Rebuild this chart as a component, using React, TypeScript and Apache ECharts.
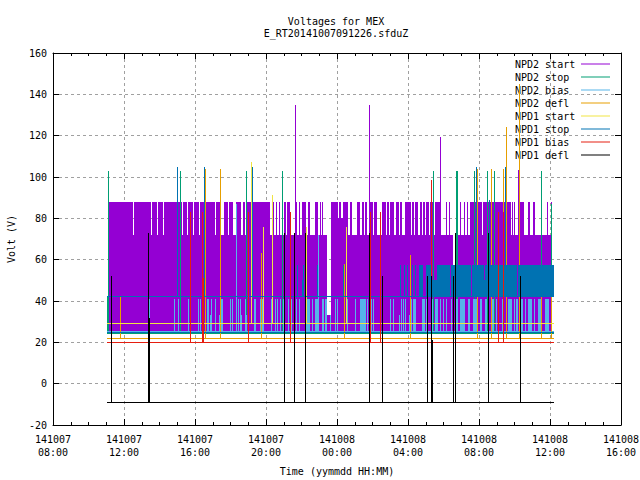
import React, { useEffect, useRef } from "react";
import * as echarts from "echarts";

const FONT = "DejaVu Sans Mono";
const seriesNames = ["NPD2 start", "NPD2 stop", "NPD2 bias", "NPD2 defl", "NPD1 start", "NPD1 stop", "NPD1 bias", "NPD1 defl"];
const seriesColors = ["#9400d3", "#009e73", "#56b4e9", "#e69f00", "#f0e442", "#0072b2", "#e51e10", "#000000"];
const xTickLabels = ["141007\n08:00", "141007\n12:00", "141007\n16:00", "141007\n20:00", "141008\n00:00", "141008\n04:00", "141008\n08:00", "141008\n12:00", "141008\n16:00"];

// hours since 141007 00:00
const dataStart = 11.04;
const dataEnd = 36.22;
const purpleStart = 11.13;
const purpleEnd = 36.08;

// [from, to, level the signal still reaches inside the gap]
const purpleGaps = [
  [12.51, 12.56, 72], [13.52, 13.6, 72], [13.86, 13.94, 72], [14.2, 14.25, 72], [15.27, 15.32, 72], [15.55, 15.61, 72],
  [15.89, 15.94, 72], [16.23, 16.28, 72], [17.15, 17.21, 72], [17.44, 17.63, 72], [17.86, 17.92, 72], [18.14, 18.31, 72],
  [18.59, 18.7, 72], [18.82, 18.93, 72], [20.23, 20.39, 72], [20.45, 20.56, 72], [20.62, 20.73, 72], [20.79, 21.04, 72],
  [21.1, 21.18, 72], [21.35, 21.69, 72], [21.75, 21.86, 72], [21.94, 22.03, 72], [22.23, 22.37, 72], [22.48, 22.76, 72],
  [22.93, 23.04, 72], [23.1, 23.15, 72], [23.21, 23.44, 72], [23.44, 23.66, 33], [24.06, 24.11, 80], [24.23, 24.34, 80],
  [24.62, 24.73, 72], [24.85, 25.13, 72], [25.3, 25.41, 72], [25.52, 25.58, 72], [25.69, 25.86, 72], [26.03, 26.08, 72],
  [26.25, 26.54, 72], [26.76, 26.82, 72], [26.93, 26.99, 72], [27.21, 27.32, 72], [27.49, 27.55, 72], [27.66, 27.83, 72],
  [28.17, 28.23, 72], [28.34, 28.39, 72], [28.56, 28.68, 72], [28.79, 28.85, 72], [28.96, 29.01, 72], [29.18, 29.24, 72],
  [29.41, 29.52, 72], [29.86, 30.14, 72], [30.2, 30.31, 72], [30.37, 30.52, 72], [30.52, 30.62, 57], [30.62, 30.7, 72],
  [30.82, 30.93, 72], [30.99, 31.15, 72], [31.21, 31.32, 72], [31.38, 31.49, 72], [32.17, 32.23, 72], [33.8, 33.86, 72],
  [33.92, 33.97, 72], [34.03, 34.2, 72], [34.54, 34.76, 72], [34.87, 35.04, 72], [35.15, 35.49, 72], [35.55, 35.83, 72],
  [35.89, 36.06, 72],
];
const purpleLow = 25;
const purpleHigh = 88;
// [from, to, top]; from === to is a single sample
const npd2StartSpikes = [[21.63, 21.63, 135], [25.8, 25.8, 135], [29.8, 29.8, 119.5], [34.2, 34.2, 103.6]];
const npd2StopSpikes = [
  [11.07, 11.16, 42], [11.1, 11.1, 102.7], [15.18, 15.18, 102.7], [18.89, 18.89, 102.7], [20.9, 20.9, 102.7], [29.41, 29.41, 102.7],
  [30.7, 30.82, 102.7], [31.72, 31.72, 102.7], [32.45, 32.45, 102.7], [32.85, 32.85, 102.7], [35.49, 35.49, 102.7], [36.06, 36.06, 87],
];
const npd2BiasSpikes = [
  [13.41, 13.41, 41], [14.82, 14.82, 41], [15.04, 15.04, 41], [15.61, 15.61, 41], [16.17, 16.17, 41], [16.28, 16.28, 41], [16.68, 16.79, 41],
  [16.85, 16.85, 33], [16.9, 16.9, 41], [17.13, 17.13, 41], [17.35, 17.35, 33], [17.46, 17.58, 41], [17.97, 17.97, 41], [18.08, 18.08, 41],
  [18.31, 18.31, 87], [18.42, 18.42, 41], [18.54, 18.54, 41], [18.59, 18.59, 33], [18.82, 18.82, 41], [18.88, 18.93, 33], [19.32, 19.44, 41],
  [19.66, 19.89, 41], [20.28, 20.28, 41], [20.51, 20.51, 41], [20.62, 20.62, 41], [20.79, 20.79, 41], [20.96, 20.96, 41], [21.24, 21.24, 41],
  [21.41, 21.41, 41], [21.69, 21.69, 41], [21.86, 21.86, 41], [22.25, 22.48, 41], [22.59, 22.59, 41], [22.76, 22.93, 41], [22.91, 22.91, 72],
  [23.15, 23.27, 41], [23.32, 23.32, 41], [23.38, 23.38, 41], [23.61, 23.61, 33], [23.89, 23.89, 41], [24, 24, 41], [24.56, 24.56, 41],
  [25.01, 25.01, 41], [25.3, 25.64, 41], [25.69, 25.69, 41], [25.92, 25.92, 41], [26.03, 26.03, 41], [26.42, 26.42, 41], [26.99, 26.99, 41],
  [27.15, 27.15, 41], [27.49, 27.49, 33], [27.61, 27.61, 41], [27.72, 27.72, 41], [27.83, 27.83, 41], [28.06, 28.06, 33], [28.17, 28.17, 41],
  [28.28, 28.45, 41], [28.79, 28.96, 41], [29.01, 29.01, 41], [29.35, 29.35, 41], [29.52, 29.69, 41], [29.8, 29.8, 41], [29.97, 29.97, 41],
  [30.14, 30.14, 41], [30.42, 30.42, 41], [30.7, 30.82, 41], [30.93, 31.21, 41], [31.38, 31.49, 41], [31.66, 31.94, 41], [32.06, 32.17, 41],
  [32.34, 32.45, 41], [32.73, 32.85, 41], [32.96, 32.96, 41], [33.07, 33.07, 41], [33.3, 33.3, 41], [33.63, 33.86, 41], [33.97, 33.97, 41],
  [34.08, 34.2, 41], [34.37, 34.48, 41], [34.59, 34.59, 41], [34.76, 34.99, 41], [35.1, 35.1, 41], [35.32, 35.49, 41], [35.72, 35.94, 41], [36.06, 36.06, 41],
];
const npd2DeflSpikes = [
  [11.77, 11.77, 42], [16.56, 16.56, 104], [17.41, 17.41, 104], [19.72, 19.72, 63], [24.39, 24.39, 58], [28.11, 28.11, 62.5], [31.89, 31.89, 104],
  [32.68, 32.68, 104], [32.65, 32.76, 41], [33.35, 33.35, 104], [33.52, 33.52, 124], [34.25, 34.25, 145], [35.49, 35.49, 42], [36.08, 36.08, 42],
];
const npd1StartSpikes = [[19.15, 19.15, 107.5], [20.34, 20.34, 91.5], [22.25, 22.25, 76], [19.83, 19.83, 76], [24.51, 24.51, 76], [29.07, 29.07, 42]];
const npd1StopSpikes = [
  [14.99, 14.99, 105], [16.51, 16.51, 105], [19.21, 19.21, 105], [21.75, 21.75, 57.5], [22.03, 22.08, 50], [22.08, 22.08, 57.5], [22.87, 22.87, 57.5],
  [24.34, 24.34, 57.5], [27.55, 27.55, 57.5], [27.77, 27.77, 57.5], [27.94, 27.94, 57.5], [28.23, 28.23, 57.5], [28.42, 28.42, 57.5], [28.62, 28.85, 57.5],
  [29.01, 29.35, 57.5], [29.35, 29.63, 50], [29.63, 30.37, 57.5], [30.42, 31.55, 57.5], [31.61, 32.28, 57.5], [32.28, 32.34, 50], [32.34, 34.14, 57.5],
  [34.2, 36.22, 57.5], [31.83, 31.83, 105], [33.46, 33.46, 105], [32.56, 32.56, 89],
];
const npd1BiasSpikes = [
  [15.72, 15.72, 83], [16.41, 16.41, 83], [16.41, 16.51, 51], [18.99, 18.99, 83], [21.35, 21.35, 83], [25.86, 25.86, 83], [26.42, 26.42, 83],
  [29.3, 29.3, 98.6], [33.07, 33.07, 83], [33.35, 33.35, 83],
];
const npd1DeflSpikes = [
  [11.27, 11.27, 52], [13.37, 13.37, 73], [13.38, 13.46, 32], [21.01, 21.01, 73], [21.55, 21.55, 73], [21.55, 21.66, 32], [22.2, 22.2, 73], [25.8, 25.8, 73],
  [26.54, 26.54, 52], [29.07, 29.07, 52], [29.3, 29.3, 52], [29.3, 29.41, 21], [30.54, 30.54, 52], [30.65, 30.65, 73], [32.51, 32.51, 73], [34.31, 34.31, 52],
];
// resting level(s) of each channel and the level its spikes rise from
const restLevels = [[], [24.3], [25.6], [21.9], [29.2], [42.2, 25], [20], [-9]];
const spikeBase = [25, 25, 25, 22, 29, 42, 20, -9];
const spikeLists = [npd2StartSpikes, npd2StopSpikes, npd2BiasSpikes, npd2DeflSpikes, npd1StartSpikes, npd1StopSpikes, npd1BiasSpikes, npd1DeflSpikes];

function purpleBlocks() {
  const out: number[][] = [];
  let cursor = purpleStart;
  for (const [from, to, level] of purpleGaps) {
    if (from > cursor) out.push([cursor, from, purpleLow, purpleHigh]);
    out.push([from, to, purpleLow, level]);
    cursor = to;
  }
  if (purpleEnd > cursor) out.push([cursor, purpleEnd, purpleLow, purpleHigh]);
  return out;
}

function renderBlock(color: string) {
  return (_: any, api: any) => {
    const a = api.coord([api.value(0), api.value(3)]);
    const b = api.coord([api.value(1), api.value(2)]);
    const x0 = Math.round(a[0]);
    const y0 = Math.round(a[1]);
    return {
      type: "rect",
      shape: { x: x0, y: y0, width: Math.max(1, Math.round(b[0]) - x0), height: Math.max(1, Math.round(b[1]) - y0) },
      style: { fill: color, stroke: null },
    };
  };
}

const textBase = { fontFamily: FONT, fontSize: 10, color: "#000" };

export default function App() {
  const ref = useRef<HTMLDivElement>(null);
  useEffect(() => {
    document.body.style.margin = "0";
    const chart = echarts.init(ref.current!, undefined, { renderer: "svg" });
    const series = seriesNames.map((name, i) => {
      const blocks: number[][] = [];
      if (i === 0) blocks.push(...purpleBlocks());
      for (const level of restLevels[i]) blocks.push([dataStart, dataEnd, level, level]);
      for (const [from, to, top] of spikeLists[i]) blocks.push([from, to, spikeBase[i], top]);
      return {
        type: "custom",
        name,
        xAxisIndex: 0,
        yAxisIndex: 0,
        z: 3 + i,
        silent: true,
        clip: true,
        itemStyle: { color: seriesColors[i] },
        renderItem: renderBlock(seriesColors[i]),
        encode: { x: [0, 1], y: [2, 3] },
        data: blocks,
      };
    });
    const xBase = {
      type: "value", min: 8, max: 40, interval: 4,
      axisLine: { show: true, onZero: false, lineStyle: { color: "#000", width: 1 } },
      axisTick: { show: true, inside: true, length: 6, lineStyle: { color: "#000" } },
      minorTick: { show: true, splitNumber: 4, length: 3, lineStyle: { color: "#000" } },
    };
    const yBase = {
      type: "value", min: -20, max: 160, interval: 20,
      axisLine: { show: true, onZero: false, lineStyle: { color: "#000", width: 1 } },
      axisTick: { show: true, inside: true, length: 6, lineStyle: { color: "#000" } },
    };
    chart.setOption({
      animation: false,
      backgroundColor: "#fff",
      title: {
        text: "Voltages for MEX\nE_RT20141007091226.sfduZ",
        left: 331, top: 10, textAlign: "center",
        textStyle: { ...textBase, fontWeight: "normal", lineHeight: 12 },
      },
      grid: { left: 53, top: 53, width: 568, height: 372, outerBoundsMode: "none" },
      legend: {
        orient: "vertical", left: 515, top: 58, padding: 0, align: "right", itemGap: 1, itemWidth: 29, itemHeight: 1,
        icon: "rect", selectedMode: false, z: 1,
        formatter: (name: string) => `{n|${name}}`,
        textStyle: { ...textBase, lineHeight: 12, rich: { n: { ...textBase, width: 61, align: "left", lineHeight: 12 } } },
        data: seriesNames,
      },
      xAxis: [
        {
          ...xBase, position: "bottom", name: "Time (yymmdd HH:MM)", nameLocation: "middle", nameGap: 41, nameTextStyle: textBase,
          axisLabel: { ...textBase, margin: 8, lineHeight: 13, formatter: (v: number) => xTickLabels[(v - 8) / 4] ?? "" },
          splitLine: { show: true, lineStyle: { color: "#a0a0a0", type: [3, 3], width: 1 } },
        },
        { ...xBase, position: "top", axisLabel: { show: false }, splitLine: { show: false } },
      ],
      yAxis: [
        {
          ...yBase, position: "left", name: "Volt (V)", nameLocation: "middle", nameGap: 37, nameRotate: 90, nameTextStyle: textBase,
          axisLabel: { ...textBase, margin: 6 },
          splitLine: { show: true, lineStyle: { color: "#a0a0a0", type: [3, 3], width: 1 } },
        },
        { ...yBase, position: "right", axisLabel: { show: false }, splitLine: { show: false } },
      ],
      series,
    });
    return () => chart.dispose();
  }, []);
  return <div ref={ref} style={{ width: 640, height: 480 }} />;
}
